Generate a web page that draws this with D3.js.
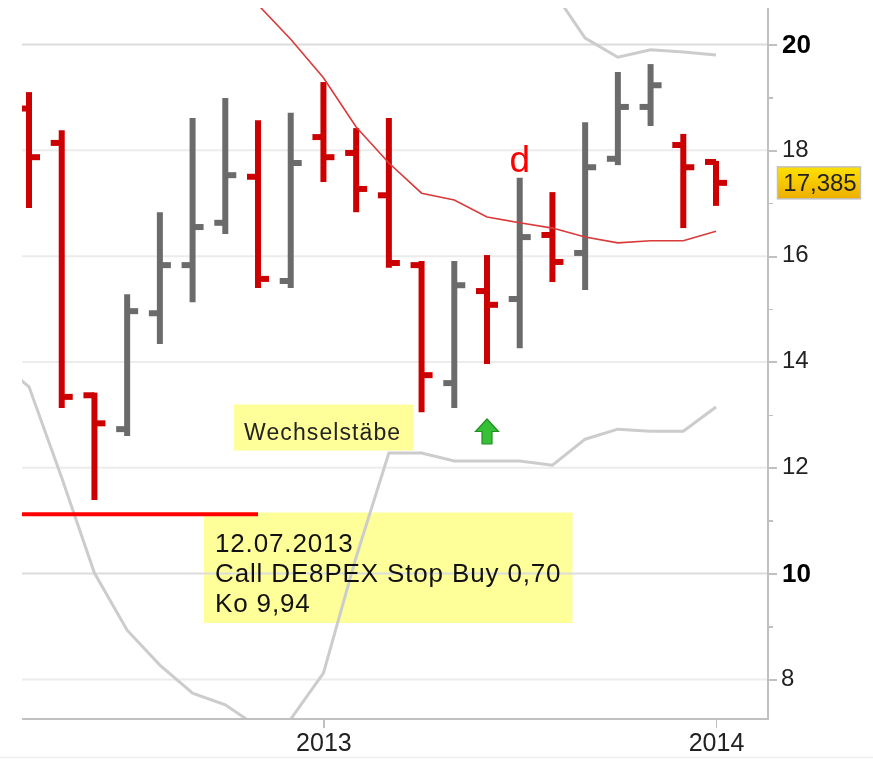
<!DOCTYPE html>
<html>
<head>
<meta charset="utf-8">
<script src="https://cdn.jsdelivr.net/npm/d3@7"></script>
<style>
body { margin: 0; background: #fff; }
svg { display: block; filter: blur(0.45px); }
text { font-family: "Liberation Sans", Arial, sans-serif; }
.axis path, .axis line { shape-rendering: crispEdges; }
</style>
</head>
<body>
<svg width="873" height="759"></svg>
<script>
// monthly bars, first month only carries the lower band
var months = ["2012-03", "2012-04", "2012-05", "2012-06", "2012-07", "2012-08", "2012-09", "2012-10", "2012-11", "2012-12",
    "2013-01", "2013-02", "2013-03", "2013-04", "2013-05", "2013-06", "2013-07", "2013-08", "2013-09", "2013-10", "2013-11", "2013-12", "2014-01"];

var open = [null, 18.79, 18.14, 13.37, 12.73, 14.92, 15.83, 16.63, 17.50, 15.53, 18.25, 17.95, 17.15, 15.83, 13.60, 15.34, 15.19, 16.40, 16.06, 17.84, 18.82, 18.10, 17.78];
var high = [null, 19.10, 18.38, 13.42, 15.28, 16.83, 18.61, 18.99, 18.57, 18.71, 19.29, 18.42, 18.61, 15.91, 15.91, 16.02, 17.48, 17.21, 18.53, 19.48, 19.63, 18.31, 17.80];
var low = [null, 16.91, 13.13, 11.39, 12.60, 14.34, 15.13, 16.42, 15.40, 15.40, 17.40, 16.83, 15.78, 13.05, 13.13, 13.96, 14.26, 15.51, 15.36, 17.72, 18.46, 16.53, 16.95];
var close = [null, 17.87, 13.34, 12.84, 14.96, 15.83, 16.55, 17.53, 15.57, 17.76, 17.87, 17.27, 15.87, 13.75, 15.45, 15.08, 16.36, 15.89, 17.68, 18.82, 19.23, 17.68, 17.385];

var avg = [null, null, null, null, null, null, null, null, 20.75, 20.10, 19.37, 18.44, 17.76, 17.19, 17.06, 16.74, 16.63, 16.53, 16.36, 16.25, 16.29, 16.29, 16.47];
var upperBand = [null, null, null, null, null, null, null, null, null, null, null, null, null, null, null, null, null, 21.03, 20.12, 19.76, 19.90, 19.86, 19.80];
var lowerBand = [14.04, 13.53, 11.81, 10.01, 8.93, 8.27, 7.74, 7.52, 7.10, 7.25, 8.12, 10.31, 12.28, 12.28, 12.13, 12.13, 12.13, 12.05, 12.54, 12.73, 12.69, 12.69, 13.15];

var yTicks = [8, 9, 10, 11, 12, 13, 14, 15, 16, 17, 18, 19, 20];
var boldTicks = [10, 20];
var yearTicks = ["2013-01", "2014-01"];
var stopLevel = 11.12;
var lastPrice = 17.385;

var svg = d3.select("svg");

var left = 22, right = 768, top_ = 8, bottom = 719;

var x = d3.scalePoint().domain(months).range([-3.7, 716]);
var y = d3.scaleLinear().domain([8, 20]).range([679.4, 44.5]);

var defs = svg.append("defs");
defs.append("clipPath").attr("id", "plot")
    .append("rect")
    .attr("x", left).attr("y", top_)
    .attr("width", right - left).attr("height", bottom - top_);

var grad = defs.append("linearGradient").attr("id", "priceFill")
    .attr("x1", 0).attr("y1", 0).attr("x2", 0).attr("y2", 1);
grad.append("stop").attr("offset", "0%").attr("stop-color", "#ffe100");
grad.append("stop").attr("offset", "100%").attr("stop-color", "#edae00");

// faint line at the foot of the picture
svg.append("line")
    .attr("x1", 0).attr("x2", 873)
    .attr("y1", 757.5).attr("y2", 757.5)
    .attr("stroke", "#eeeeee").attr("stroke-width", 1.5);

// yellow notes sit under the grid
svg.append("rect").attr("x", 234).attr("y", 404.5).attr("width", 179).attr("height", 46).attr("fill", "#ffff99");
svg.append("rect").attr("x", 204).attr("y", 512.5).attr("width", 368.5).attr("height", 110.5).attr("fill", "#ffff99");

// grid
svg.append("g")
    .selectAll("line")
    .data(yTicks.filter(function(d) { return d % 2 === 0; }))
    .enter()
    .append("line")
    .attr("x1", left).attr("x2", right)
    .attr("y1", function(d) { return y(d); })
    .attr("y2", function(d) { return y(d); })
    .attr("stroke", function(d) { return boldTicks.indexOf(d) >= 0 ? "#dcdcdc" : "#ececec"; })
    .attr("stroke-width", 2);

var plot = svg.append("g").attr("clip-path", "url(#plot)");

function lineOf(values) {
    return d3.line()
        .defined(function(d) { return values[months.indexOf(d)] !== null; })
        .x(function(d) { return x(d); })
        .y(function(d) { return y(values[months.indexOf(d)]); })(months);
}

[lowerBand, upperBand].forEach(function(band) {
    plot.append("path")
        .attr("d", lineOf(band))
        .attr("fill", "none")
        .attr("stroke", "#cccccc")
        .attr("stroke-width", 3);
});

// bars: red when close is under open
var bars = months.filter(function(d, i) { return high[i] !== null; });

function barColor(d) {
    var i = months.indexOf(d);
    return close[i] < open[i] ? "#cc0000" : "#6b6b6b";
}

var bar = plot.append("g")
    .selectAll("g")
    .data(bars)
    .enter()
    .append("g")
    .attr("stroke", barColor)
    .attr("stroke-width", 6);

bar.append("line")
    .attr("x1", function(d) { return x(d); })
    .attr("x2", function(d) { return x(d); })
    .attr("y1", function(d) { return y(high[months.indexOf(d)]); })
    .attr("y2", function(d) { return y(low[months.indexOf(d)]); });

bar.append("line")
    .attr("x1", function(d) { return x(d) - 11; })
    .attr("x2", function(d) { return x(d); })
    .attr("y1", function(d) { return y(open[months.indexOf(d)]); })
    .attr("y2", function(d) { return y(open[months.indexOf(d)]); });

bar.append("line")
    .attr("x1", function(d) { return x(d); })
    .attr("x2", function(d) { return x(d) + 11; })
    .attr("y1", function(d) { return y(close[months.indexOf(d)]); })
    .attr("y2", function(d) { return y(close[months.indexOf(d)]); });

plot.append("path")
    .attr("d", lineOf(avg))
    .attr("fill", "none")
    .attr("stroke", "#d93a3a")
    .attr("stroke-width", 1.6);

// stop line
plot.append("line")
    .attr("x1", left).attr("x2", 258)
    .attr("y1", y(stopLevel)).attr("y2", y(stopLevel))
    .attr("stroke", "#ff0000")
    .attr("stroke-width", 4);

// axes
var yAxis = d3.axisRight(y)
    .tickValues(yTicks)
    .tickFormat(function(d) { return d % 2 === 0 ? d : ""; })
    .tickSize(0);

var yG = svg.append("g").attr("class", "axis")
    .attr("transform", "translate(" + right + ",0)")
    .call(yAxis);

yG.select(".domain").remove();
yG.append("line")
    .attr("y1", top_).attr("y2", bottom + 1)
    .attr("stroke", "#c0c0c0").attr("stroke-width", 2);
yG.selectAll(".tick line")
    .attr("x2", function(d) { return d % 2 === 0 ? 9 : 5; })
    .attr("stroke", "#c0c0c0")
    .attr("stroke-width", function(d) { return d % 2 === 0 ? 2 : 1.5; });
yG.selectAll(".tick text")
    .attr("x", function(d) { return d === 8 ? 13 : 14; })
    .attr("y", function(d) { return boldTicks.indexOf(d) >= 0 ? 0 : -2; })
    .attr("fill", function(d) { return boldTicks.indexOf(d) >= 0 ? "#000" : "#222"; })
    .attr("font-family", "'Liberation Sans', Arial, sans-serif")
    .attr("font-size", function(d) { return boldTicks.indexOf(d) >= 0 ? 26 : 24; })
    .attr("font-weight", function(d) { return boldTicks.indexOf(d) >= 0 ? "bold" : "normal"; });

var xAxis = d3.axisBottom(x)
    .tickValues(yearTicks)
    .tickFormat(function(d) { return d.slice(0, 4); })
    .tickSize(9)
    .tickPadding(5);

var xG = svg.append("g").attr("class", "axis")
    .attr("transform", "translate(0," + bottom + ")")
    .call(xAxis);

xG.select(".domain").remove();
xG.append("line")
    .attr("x1", left).attr("x2", right + 1)
    .attr("stroke", "#c0c0c0").attr("stroke-width", 2);
xG.selectAll(".tick line").attr("stroke", "#c0c0c0").attr("stroke-width", 1.5);
xG.selectAll(".tick text")
    .attr("fill", "#222")
    .attr("font-family", "'Liberation Sans', Arial, sans-serif")
    .attr("font-size", 25);

// last price tag
svg.append("rect")
    .attr("x", 777.5).attr("y", y(lastPrice) - 16)
    .attr("width", 83).attr("height", 32)
    .attr("fill", "url(#priceFill)")
    .attr("stroke", "#c0c0c0").attr("stroke-width", 1.5);
svg.append("text")
    .attr("x", 820).attr("y", y(lastPrice) + 8.5)
    .attr("text-anchor", "middle")
    .attr("font-size", 24)
    .attr("fill", "#222")
    .text(d3.format(".3f")(lastPrice).replace(".", ","));

// notes
svg.append("text")
    .attr("x", 244).attr("y", 440)
    .attr("font-size", 23)
    .attr("letter-spacing", 1.1)
    .attr("fill", "#222")
    .text("Wechselstäbe");

var note = ["12.07.2013", "Call DE8PEX Stop Buy 0,70", "Ko 9,94"];
svg.append("g")
    .selectAll("text")
    .data(note)
    .enter()
    .append("text")
    .attr("x", 215)
    .attr("y", function(d, i) { return 551.5 + i * 30; })
    .attr("font-size", 26)
    .attr("letter-spacing", 0.85)
    .attr("fill", "#111")
    .text(function(d) { return d; });

svg.append("text")
    .attr("x", x("2013-07")).attr("y", 172)
    .attr("text-anchor", "middle")
    .attr("font-size", 37)
    .attr("fill", "#ff0000")
    .text("d");

// buy arrow under the June bar
var arrow = d3.path();
arrow.moveTo(0, 0);
arrow.lineTo(11.5, 12.5);
arrow.lineTo(5, 12.5);
arrow.lineTo(5, 25);
arrow.lineTo(-5, 25);
arrow.lineTo(-5, 12.5);
arrow.lineTo(-11.5, 12.5);
arrow.closePath();

svg.append("path")
    .attr("d", arrow.toString())
    .attr("transform", "translate(" + x("2013-06") + ",419)")
    .attr("fill", "#35c035")
    .attr("stroke", "#209020")
    .attr("stroke-width", 1.2);
</script>
</body>
</html>
